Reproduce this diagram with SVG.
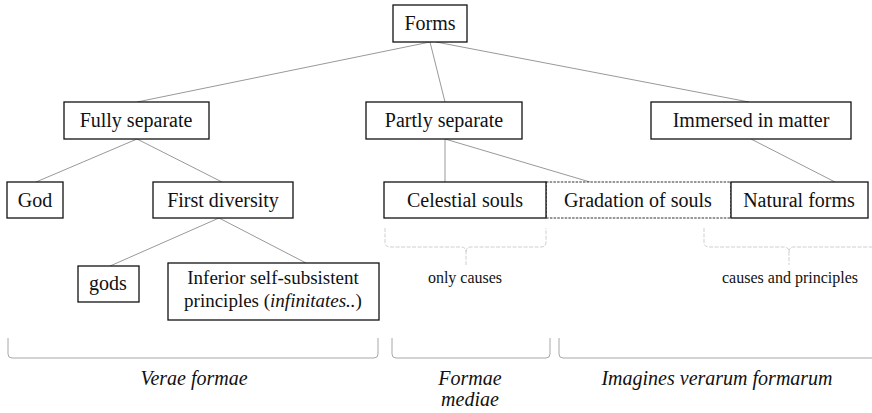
<svg xmlns="http://www.w3.org/2000/svg" width="872" height="413" viewBox="0 0 872 413">
<style>
.box{fill:#fff;stroke:#111;stroke-width:1.3}
.dbox{fill:#fff;stroke:#333;stroke-width:1.2;stroke-dasharray:2.5 1.2}
.c{stroke:#999;stroke-width:1;fill:none}
.br{stroke:#cfcfcf;stroke-width:1;fill:none;stroke-dasharray:4 1.5}
.bb{stroke:#a8a8a8;stroke-width:1;fill:none}
</style>
<g id="connectors">
<line class="c" x1="430" y1="42" x2="137" y2="102"/>
<line class="c" x1="430" y1="42" x2="445" y2="102"/>
<line class="c" x1="436" y1="42" x2="749" y2="102"/>
<line class="c" x1="137" y1="139" x2="36" y2="182"/>
<line class="c" x1="137" y1="139" x2="222" y2="182"/>
<line class="c" x1="445" y1="139" x2="445" y2="182"/>
<line class="c" x1="445" y1="139" x2="590" y2="182"/>
<line class="c" x1="751" y1="139" x2="835" y2="182"/>
<line class="c" x1="219" y1="218" x2="110" y2="266"/>
<line class="c" x1="219" y1="218" x2="306" y2="263"/>
</g>
<g id="n-forms"><rect class="box" x="393" y="5" width="74" height="37"/><text x="430" y="30" font-family="Times New Roman" font-size="20px" fill="#111" text-anchor="middle">Forms</text></g>
<g id="n-fully"><rect class="box" x="64" y="102" width="145" height="37"/><text x="136" y="127" font-family="Times New Roman" font-size="20px" fill="#111" text-anchor="middle">Fully separate</text></g>
<g id="n-partly"><rect class="box" x="366" y="102" width="156" height="37"/><text x="444" y="127" font-family="Times New Roman" font-size="20px" fill="#111" text-anchor="middle">Partly separate</text></g>
<g id="n-immersed"><rect class="box" x="651" y="102" width="200" height="37"/><text x="751" y="127" font-family="Times New Roman" font-size="20px" fill="#111" text-anchor="middle">Immersed in matter</text></g>
<g id="n-god"><rect class="box" x="7" y="182" width="56" height="36"/><text x="35" y="207" font-family="Times New Roman" font-size="20px" fill="#111" text-anchor="middle">God</text></g>
<g id="n-first"><rect class="box" x="153" y="182" width="140" height="36"/><text x="223" y="207" font-family="Times New Roman" font-size="20px" fill="#111" text-anchor="middle">First diversity</text></g>
<g id="n-gradation"><rect class="dbox" x="546" y="182" width="185" height="36"/><text x="638" y="207" font-family="Times New Roman" font-size="20px" fill="#111" text-anchor="middle">Gradation of souls</text></g>
<g id="n-celestial"><rect class="box" x="384" y="182" width="162" height="36"/><text x="465" y="207" font-family="Times New Roman" font-size="20px" fill="#111" text-anchor="middle">Celestial souls</text></g>
<g id="n-natural"><rect class="box" x="731" y="182" width="137" height="36"/><text x="799" y="207" font-family="Times New Roman" font-size="20px" fill="#111" text-anchor="middle">Natural forms</text></g>
<g id="n-gods"><rect class="box" x="78" y="266" width="61" height="36"/><text x="108" y="290" font-family="Times New Roman" font-size="20px" fill="#111" text-anchor="middle">gods</text></g>
<g id="n-inferior"><rect class="box" x="168" y="263" width="211" height="57"/><text x="273" y="284" font-family="Times New Roman" font-size="19px" fill="#111" text-anchor="middle">Inferior self-subsistent</text><text x="273" y="307" font-family="Times New Roman" font-size="19px" fill="#111" text-anchor="middle">principles (<tspan font-style="italic">infinitates..</tspan>)</text></g>
<g id="braces">
<path class="br" d="M385,228 L385,242 Q385,247 390,247 L461,247 Q466,247 466,252 L466,265 M466,252 Q466,247 471,247 L541,247 Q546,247 546,242 L546,228"/>
<path class="br" d="M704,228 L704,242 Q704,247 709,247 L784,247 Q789,247 789,252 L789,265 M789,252 Q789,247 794,247 L874,247"/>
<path class="bb" d="M8,338 L8,354 Q8,358 12,358 L374,358 Q378,358 378,354 L378,338"/>
<path class="bb" d="M392,338 L392,354 Q392,358 396,358 L546,358 Q550,358 550,354 L550,338"/>
<path class="bb" d="M559,338 L559,354 Q559,358 563,358 L876,358"/>
</g>
<g id="labels">
<text x="465" y="283" font-family="Times New Roman" font-size="16px" fill="#111" text-anchor="middle">only causes</text>
<text x="790" y="283" font-family="Times New Roman" font-size="16px" fill="#111" text-anchor="middle">causes and principles</text>
<text x="194" y="385" font-family="Times New Roman" font-size="20px" font-style="italic" fill="#111" text-anchor="middle">Verae formae</text>
<text x="470" y="385" font-family="Times New Roman" font-size="20px" font-style="italic" fill="#111" text-anchor="middle">Formae</text>
<text x="470" y="406" font-family="Times New Roman" font-size="20px" font-style="italic" fill="#111" text-anchor="middle">mediae</text>
<text x="717" y="385" font-family="Times New Roman" font-size="20px" font-style="italic" fill="#111" text-anchor="middle">Imagines verarum formarum</text>
</g>
</svg>
